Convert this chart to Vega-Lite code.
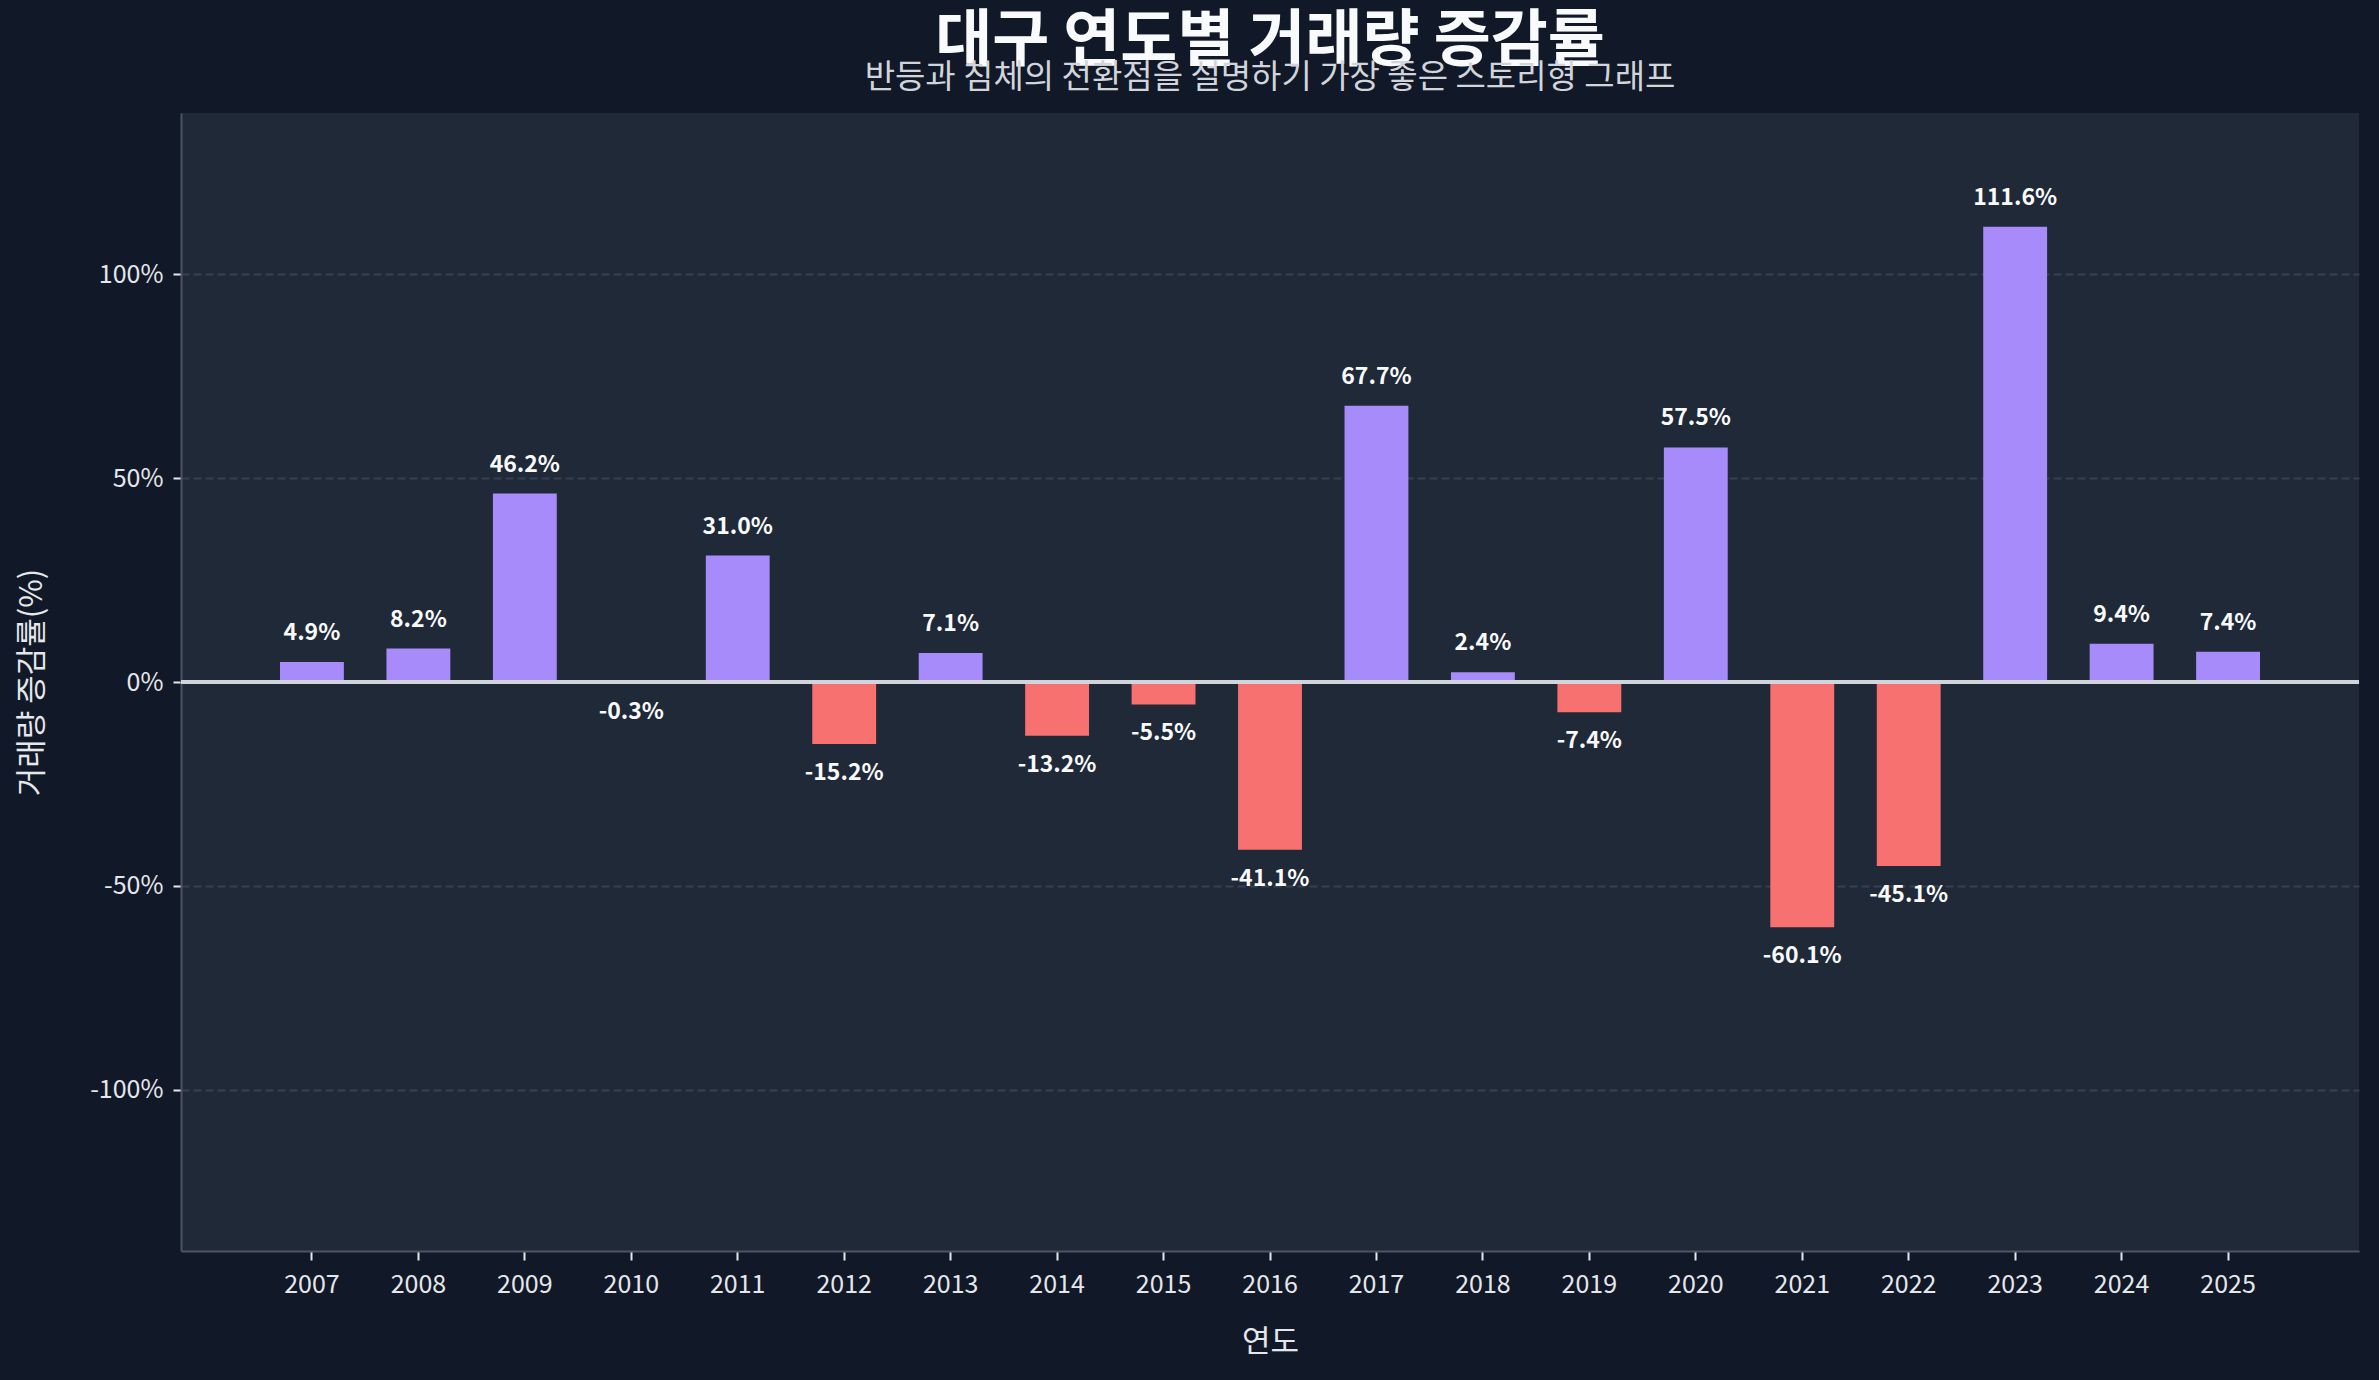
{
  "$schema": "https://vega.github.io/schema/vega-lite/v6.json",
  "autosize": {"type": "none"},
  "width": 2178,
  "height": 1138,
  "padding": {"left": 181, "top": 113, "right": 20, "bottom": 129},
  "background": "#111827",
  "config": {
    "font": "Noto Sans CJK KR",
    "view": {"fill": "#1f2937", "stroke": null}
  },
  "title": {
    "text": "대구 연도별 거래량 증감률",
    "subtitle": "반등과 침체의 전환점을 설명하기 가장 좋은 스토리형 그래프",
    "anchor": "middle",
    "frame": "group",
    "font": "Noto Sans CJK KR",
    "fontSize": 62,
    "fontWeight": "bold",
    "color": "#f9fafb",
    "subtitleFont": "Noto Sans CJK KR",
    "subtitleFontSize": 33,
    "subtitleColor": "#d1d5db",
    "subtitlePadding": -12,
    "offset": 17
  },
  "data": {
    "values": [
      {"year": "2007", "rate": 4.9},
      {"year": "2008", "rate": 8.2},
      {"year": "2009", "rate": 46.2},
      {"year": "2010", "rate": -0.3},
      {"year": "2011", "rate": 31.0},
      {"year": "2012", "rate": -15.2},
      {"year": "2013", "rate": 7.1},
      {"year": "2014", "rate": -13.2},
      {"year": "2015", "rate": -5.5},
      {"year": "2016", "rate": -41.1},
      {"year": "2017", "rate": 67.7},
      {"year": "2018", "rate": 2.4},
      {"year": "2019", "rate": -7.4},
      {"year": "2020", "rate": 57.5},
      {"year": "2021", "rate": -60.1},
      {"year": "2022", "rate": -45.1},
      {"year": "2023", "rate": 111.6},
      {"year": "2024", "rate": 9.4},
      {"year": "2025", "rate": 7.4}
    ]
  },
  "transform": [
    {"calculate": "replace(format(datum.rate, '.1f'), '−', '-') + '%'", "as": "label"}
  ],
  "encoding": {
    "x": {
      "field": "year",
      "type": "ordinal",
      "title": "연도",
      "scale": {"paddingInner": 0.4, "paddingOuter": 0.93},
      "axis": {
        "labelAngle": 0,
        "labelFontSize": 25,
        "labelColor": "#e5e7eb",
        "labelPadding": 12,
        "tickColor": "#e5e7eb",
        "tickWidth": 2,
        "tickSize": 9,
        "domainColor": "#4b5563",
        "domainWidth": 2,
        "titleFontSize": 31,
        "titleFontWeight": "normal",
        "titleColor": "#e5e7eb",
        "titlePadding": 30
      }
    },
    "y": {
      "field": "rate",
      "type": "quantitative",
      "title": "거래량 증감률(%)",
      "scale": {"domain": [-139.5, 139.5], "nice": false},
      "axis": {
        "values": [-100, -50, 0, 50, 100],
        "labelExpr": "datum.value + '%'",
        "labelFontSize": 25,
        "labelColor": "#e5e7eb",
        "labelPadding": 10,
        "tickColor": "#e5e7eb",
        "tickWidth": 2,
        "tickSize": 8,
        "domainColor": "#4b5563",
        "domainWidth": 2,
        "grid": true,
        "gridColor": "#374151",
        "gridWidth": 2,
        "gridDash": [8, 4],
        "titleFontSize": 31,
        "titleFontWeight": "normal",
        "titleColor": "#e5e7eb",
        "titlePadding": 41
      }
    }
  },
  "layer": [
    {
      "mark": {"type": "bar"},
      "encoding": {
        "color": {
          "condition": {"test": "datum.rate >= 0", "value": "#a78bfa"},
          "value": "#f87171"
        }
      }
    },
    {
      "mark": {"type": "rule", "color": "#d1d5db", "strokeWidth": 3},
      "encoding": {"y": {"datum": 0}, "x": null}
    },
    {
      "transform": [{"filter": "datum.rate >= 0"}],
      "mark": {"type": "text", "baseline": "alphabetic", "dy": -22, "fontSize": 23, "fontWeight": "bold", "color": "#f9fafb"},
      "encoding": {"text": {"field": "label"}}
    },
    {
      "transform": [{"filter": "datum.rate < 0"}],
      "mark": {"type": "text", "baseline": "alphabetic", "dy": 36, "fontSize": 23, "fontWeight": "bold", "color": "#f9fafb"},
      "encoding": {"text": {"field": "label"}}
    }
  ]
}
